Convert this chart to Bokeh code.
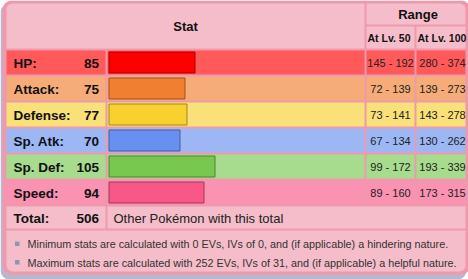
from bokeh.plotting import figure
from bokeh.models import Range1d, ColumnDataSource
from bokeh.core.properties import value
from bokeh.embed import file_html
from bokeh.resources import INLINE

# ---- data ----
stat_names = ["HP:", "Attack:", "Defense:", "Sp. Atk:", "Sp. Def:", "Speed:"]
base_stats = [85, 75, 77, 70, 105, 94]
lv50_min = [145, 72, 73, 67, 99, 89]
lv50_max = [192, 139, 141, 134, 172, 160]
lv100_min = [280, 139, 143, 130, 193, 173]
lv100_max = [374, 273, 278, 262, 339, 315]
row_colors = ["#FF5959", "#F5AC78", "#FAE078", "#9DB7F5", "#A7DB8D", "#FA92B2"]
bar_colors = ["#FF0000", "#F08030", "#F8D030", "#6890F0", "#78C850", "#F85888"]
bar_borders = ["#A60000", "#9C531F", "#A1871F", "#445E9C", "#4E8234", "#A13959"]
header_stat = "Stat"
header_range = "Range"
header_levels = ["At Lv. 50", "At Lv. 100"]
total_label = "Total:"
total_link = "Other Pokémon with this total"
notes = [
    "Minimum stats are calculated with 0 EVs, IVs of 0, and (if applicable) a hindering nature.",
    "Maximum stats are calculated with 252 EVs, IVs of 31, and (if applicable) a helpful nature.",
]

# ---- style / layout ----
W, H = 468, 279
LIGHT = "#F4BDC9"
BORDER = "#EE99AC"
SHADOW = "#B7B7CF"
FONT = value("Liberation Sans")
ROW0, PITCH, ROWH = 50, 26, 24
NAME_L, NAME_R = 6, 105
BAR_L, BAR_R = 107, 364
L50_L, L50_R = 366, 414
L100_L, L100_R = 416, 465

p = figure(width=W, height=H, output_backend="svg", toolbar_location=None,
           x_range=Range1d(0, W), y_range=Range1d(H, 0), min_border=0,
           outline_line_color=None, background_fill_color="white",
           border_fill_color="white")
p.axis.visible = False
p.grid.visible = False

# frame
p.quad(left=[0], right=[466], top=[3], bottom=[279], fill_color=SHADOW,
       line_color=None, border_radius=9)
p.quad(left=[2], right=[470], top=[0], bottom=[274], fill_color=BORDER,
       line_color=None, border_radius=9)

# header cells
p.quad(left=[6], right=[BAR_R], top=[3], bottom=[48], fill_color=LIGHT,
       line_color=None, border_radius=(6, 0, 0, 0))
p.quad(left=[L50_L], right=[L100_R], top=[3], bottom=[24], fill_color=LIGHT,
       line_color=None, border_radius=(0, 6, 0, 0))
p.quad(left=[L50_L, L100_L], right=[L50_R, L100_R], top=[26, 26],
       bottom=[48, 48], fill_color=LIGHT, line_color=None)

p.text(x=[(6 + BAR_R) / 2], y=[25.5], text=[header_stat], text_font=FONT,
       text_font_size="13px", text_font_style="bold", text_align="center",
       text_baseline="middle", text_color="#111111")
p.text(x=[(L50_L + L100_R) / 2 + 2], y=[14], text=[header_range], text_font=FONT,
       text_font_size="13px", text_font_style="bold", text_align="center",
       text_baseline="middle", text_color="#111111")
p.text(x=[L50_L + 1, L100_L + 1], y=[37.5, 37.5], text=header_levels, text_font=FONT,
       text_font_size="10.5px", text_font_style="bold", text_align="left",
       text_baseline="middle", text_color="#111111")

# stat rows
n = len(base_stats)
tops = [ROW0 + PITCH * i for i in range(n)]
bots = [t + ROWH for t in tops]
mids = [t + ROWH / 2 for t in tops]
for l, r in [(NAME_L, NAME_R), (BAR_L, BAR_R), (L50_L, L50_R), (L100_L, L100_R)]:
    p.quad(left=[l] * n, right=[r] * n, top=tops, bottom=bots,
           fill_color=row_colors, line_color=None)

src = ColumnDataSource(dict(
    left=[BAR_L + 1.5] * n,
    right=[BAR_L + 1.5 + s + 1 for s in base_stats],
    top=[t + 1.5 for t in tops],
    bottom=[b - 1.5 for b in bots],
    fill=bar_colors, line=bar_borders,
))
p.quad(left="left", right="right", top="top", bottom="bottom", source=src,
       fill_color="fill", line_color="line", line_width=1)

p.text(x=[13] * n, y=[m + 0.5 for m in mids], text=stat_names, text_font=FONT,
       text_font_size="13.5px", text_font_style="bold", text_baseline="middle",
       text_color="#111111")
p.text(x=[98.5] * n, y=[m + 0.5 for m in mids], text=[str(s) for s in base_stats],
       text_font=FONT, text_font_size="13.5px", text_font_style="bold",
       text_align="right", text_baseline="middle", text_color="#111111")
p.text(x=[(L50_L + L50_R) / 2] * n, y=[m + 0.5 for m in mids],
       text=[f"{a} - {b}" for a, b in zip(lv50_min, lv50_max)], text_font=FONT,
       text_font_size="11px", text_align="center", text_baseline="middle",
       text_color="#222222")
p.text(x=[(L100_L + L100_R) / 2 + 1.5] * n, y=[m + 0.5 for m in mids],
       text=[f"{a} - {b}" for a, b in zip(lv100_min, lv100_max)], text_font=FONT,
       text_font_size="11px", text_align="center", text_baseline="middle",
       text_color="#222222")

# total row
tt = ROW0 + PITCH * n
p.quad(left=[NAME_L, BAR_L], right=[NAME_R, L100_R], top=[tt, tt],
       bottom=[tt + 22, tt + 22], fill_color=LIGHT, line_color=None)
p.text(x=[13], y=[tt + 11.5], text=[total_label], text_font=FONT,
       text_font_size="13.5px", text_font_style="bold", text_baseline="middle",
       text_color="#111111")
p.text(x=[98.5], y=[tt + 11.5], text=[str(sum(base_stats))], text_font=FONT,
       text_font_size="13.5px", text_font_style="bold", text_align="right",
       text_baseline="middle", text_color="#111111")
p.text(x=[113], y=[tt + 11.5], text=[total_link], text_font=FONT,
       text_font_size="13px", text_baseline="middle", text_color="#222222")

# footer
ft = tt + 24
p.quad(left=[6], right=[L100_R], top=[ft], bottom=[271], fill_color=LIGHT,
       line_color=None, border_radius=(0, 0, 6, 6))
ny = [ft + 13.5, ft + 32]
p.quad(left=[14.5, 14.5], right=[19, 19], top=[y - 2.5 for y in ny],
       bottom=[y + 2 for y in ny], fill_color="#8A9AAE", line_color=None)
p.text(x=[27, 27], y=ny, text=notes, text_font=FONT, text_font_size="10.8px",
       text_baseline="middle", text_color="#333333")

open("out.html", "w").write(file_html(p, INLINE))
